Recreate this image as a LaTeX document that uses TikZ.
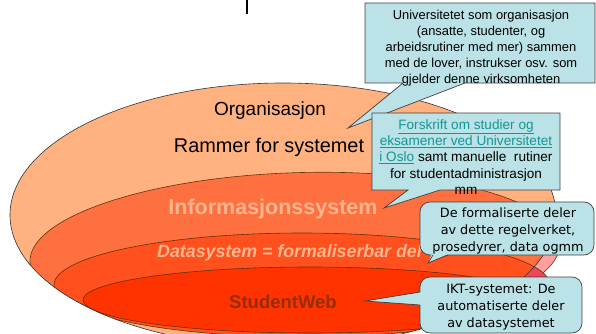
\documentclass[tikz,border=0pt]{standalone}
\usepackage{fontspec}
\setmainfont{Liberation Sans}
\newfontfamily\comicf{DejaVu Sans}
\definecolor{outerc}{RGB}{255,178,128}
\definecolor{infoc}{RGB}{255,112,64}
\definecolor{datac}{RGB}{255,80,30}
\definecolor{webc}{RGB}{255,51,0}
\definecolor{pinka}{RGB}{255,160,160}
\definecolor{pinkb}{RGB}{240,70,90}
\definecolor{edgec}{RGB}{100,50,10}
\definecolor{lighttxt}{RGB}{255,182,142}
\definecolor{webtxt}{RGB}{150,45,0}
\definecolor{callc}{RGB}{187,226,230}
\definecolor{linkc}{RGB}{20,150,150}
\begin{document}
\begin{tikzpicture}[x=1pt,y=-1pt,
  ring/.style={draw=edgec,line width=0.6pt},
  inforing/.style={rotate around={2:(30,262)}},
  callbox/.style={fill=callc,draw=black!75,line width=0.7pt},
  calltxt/.style={align=center,inner sep=0pt,font=\fontsize{12.9}{16}\selectfont},
  comictxt/.style={align=center,inner sep=0pt,font=\comicf\fontsize{12.8}{17}\selectfont},
  bigtxt/.style={inner sep=0pt}]
\useasboundingbox (0,0) rectangle (596,334);
\fill[white] (0,0) rectangle (596,334);
\begin{scope}
\clip (0,0) rectangle (596,334);
% overflow parts of inner rings (outside the outer ring, right side only)
\begin{scope}
\clip (440,0) rectangle (596,334);
\path[ring,fill=pinka,inforing] (295,262) ellipse [x radius=265pt,y radius=80pt];
\path[ring,fill=pinkb] (302,285) ellipse [x radius=248pt,y radius=52pt];
\end{scope}
% outer ring
\path[fill=outerc] (283,215) ellipse [x radius=273pt,y radius=132pt];
\begin{scope}
\clip (283,215) ellipse [x radius=273pt,y radius=132pt];
\path[ring,fill=infoc,inforing] (295,262) ellipse [x radius=265pt,y radius=80pt];
\path[ring,fill=datac] (302,285) ellipse [x radius=248pt,y radius=52pt];
\path[ring,fill=webc] (310,300) ellipse [x radius=227pt,y radius=33pt];
\end{scope}
\draw[black!80,line width=0.6pt] (283,215) ellipse [x radius=273pt,y radius=132pt];
\end{scope}
% cut-off glyph at the top
\fill[black] (245.5,0) rectangle (247.5,14);
% ring labels
\node[bigtxt,font=\fontsize{19}{22}\selectfont] (org) at (270,111) {Organisasjon};
\node[bigtxt,font=\fontsize{19.9}{22}\selectfont] (ram) at (269,147) {Rammer for systemet};
\node[bigtxt,font=\bfseries\fontsize{21.5}{24}\selectfont,text=lighttxt] (info) at (273,209) {Informasjonssystem};
\node[bigtxt,anchor=west,font=\bfseries\itshape\fontsize{17.8}{20}\selectfont,text=lighttxt] (data) at (157,253) {Datasystem = formaliserbar del};
\node[bigtxt,font=\bfseries\fontsize{18.5}{22}\selectfont,text=webtxt] (web) at (283,302) {StudentWeb};
% callout 1
\coordinate (t1) at (348,128);
\draw[callbox] (365,3) -- (595,3) -- (595,83) -- (465,83) -- (t1) -- (403,83) -- (365,83) -- cycle;
\node[calltxt] (c1) at (481,48) {Universitetet som organisasjon\\(ansatte, studenter, og\\arbeidsrutiner med mer) sammen\\med de lover, instrukser osv. som\\gjelder denne virksomheten};
% callout 2
\coordinate (t2) at (384,208);
\draw[callbox] (372,113) -- (560,113) -- (560,190) -- (440,190) -- (t2) -- (408,190) -- (372,190) -- cycle;
\node[calltxt,font=\fontsize{13.6}{16.3}\selectfont] (c2) at (466,157) {{\color{linkc}\underline{Forskrift om studier og}}\\{\color{linkc}\underline{eksamener ved Universitetet}}\\{\color{linkc}\underline{i Oslo}} samt manuelle\ \ rutiner\\for studentadministrasjon\\mm};
% callout 3
\coordinate (t3) at (428,263);
\draw[callbox,rounded corners=10pt] (420,202) rectangle (594,255);
\fill[callc] (432,253.5) -- (t3) -- (449,253.5) -- cycle;
\draw[black!75,line width=0.7pt] (433,255) -- (t3) -- (448,255);
\node[comictxt] (c3) at (508,231) {De formaliserte deler\\av dette regelverket,\\prosedyrer, data ogmm};
% callout 4
\coordinate (t4) at (365,301);
\draw[callbox,rounded corners=10pt] (420,277) rectangle (582,333);
\fill[callc] (421.5,292) -- (t4) -- (421.5,305) -- cycle;
\draw[black!75,line width=0.7pt] (420,292) -- (t4) -- (420,305);
\node[comictxt] (c4) at (501,307) {IKT-systemet: De\\automatiserte deler\\av datasystemet};
\end{tikzpicture}
\end{document}
